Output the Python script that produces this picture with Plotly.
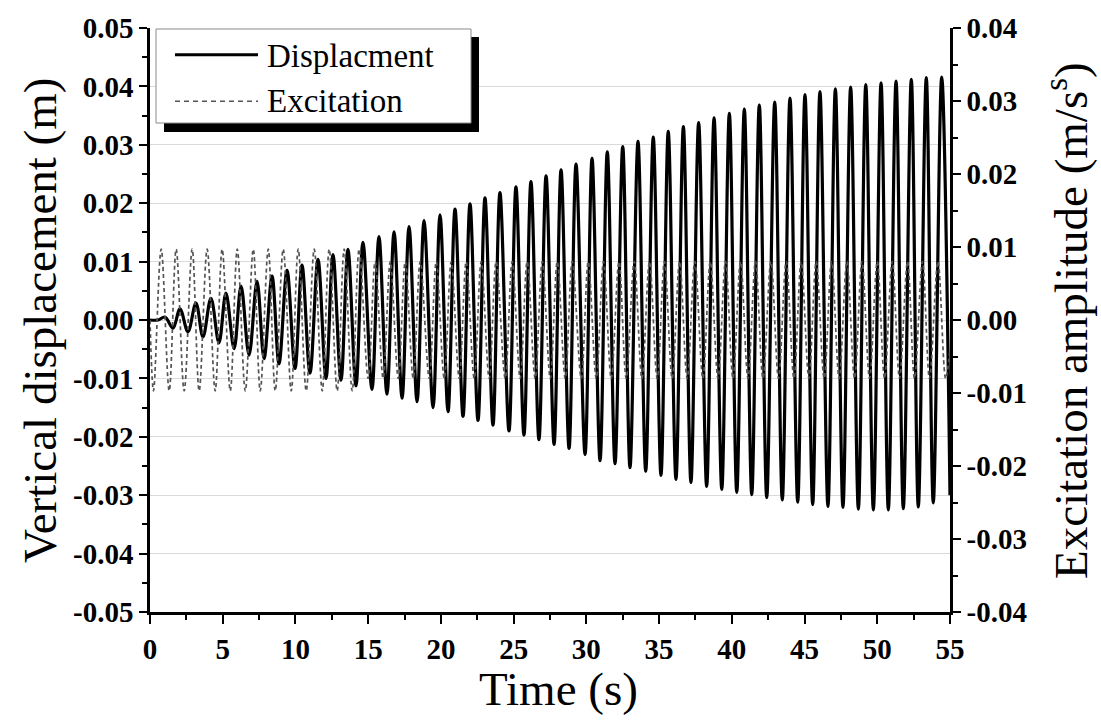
import plotly.graph_objects as go

# ---- Vertical displacement: turning points of the response (s, m) ----
disp_start_t = [0.0, 0.55]
disp_start_v = [0.0, 0.0]

disp_peak_t = [1.03, 2.06, 3.16, 4.19, 5.22, 6.26, 7.36, 8.39, 9.42, 10.45,
               11.55, 12.58, 13.61, 14.64, 15.74, 16.78, 17.81, 18.84, 19.94, 20.97,
               22.00, 23.03, 24.06, 25.16, 26.19, 27.23, 28.26, 29.29, 30.39, 31.44,
               32.50, 33.55, 34.60, 35.63, 36.67, 37.72, 38.78, 39.83, 40.86, 41.89,
               42.95, 44.00, 45.03, 46.06, 47.12, 48.17, 49.21, 50.26, 51.29, 52.34,
               53.37, 54.43]
disp_peak_v = [0.0005, 0.0019, 0.0029, 0.0037, 0.0046, 0.0058, 0.0066, 0.0075, 0.0085, 0.0094,
               0.0104, 0.0112, 0.0121, 0.0133, 0.0143, 0.0151, 0.0160, 0.0170, 0.0180, 0.0190,
               0.0199, 0.0209, 0.0218, 0.0228, 0.0237, 0.0247, 0.0257, 0.0267, 0.0277, 0.0288,
               0.0297, 0.0306, 0.0313, 0.0323, 0.0331, 0.0338, 0.0346, 0.0354, 0.0361, 0.0368,
               0.0373, 0.0380, 0.0386, 0.0391, 0.0396, 0.0399, 0.0403, 0.0406, 0.0409, 0.0412,
               0.0415, 0.0416]

disp_trough_t = [1.58, 2.61, 3.64, 4.74, 5.78, 6.81, 7.84, 8.87, 9.97, 11.00,
                 12.10, 13.13, 14.16, 15.26, 16.29, 17.33, 18.36, 19.46, 20.49, 21.52,
                 22.55, 23.58, 24.68, 25.71, 26.74, 27.78, 28.81, 29.91, 30.94, 31.97,
                 33.00, 34.08, 35.13, 36.16, 37.19, 38.27, 39.31, 40.34, 41.37, 42.40,
                 43.47, 44.53, 45.56, 46.61, 47.64, 48.70, 49.73, 50.76, 51.79, 52.82,
                 53.85]
disp_trough_v = [-0.0014, -0.0020, -0.0029, -0.0039, -0.0049, -0.0060, -0.0066, -0.0075, -0.0083, -0.0091,
                 -0.0100, -0.0103, -0.0113, -0.0119, -0.0127, -0.0134, -0.0140, -0.0150, -0.0157, -0.0165,
                 -0.0172, -0.0180, -0.0190, -0.0197, -0.0205, -0.0213, -0.0220, -0.0230, -0.0241, -0.0246,
                 -0.0253, -0.0259, -0.0266, -0.0273, -0.0278, -0.0285, -0.0290, -0.0295, -0.0299, -0.0304,
                 -0.0308, -0.0312, -0.0316, -0.0319, -0.0321, -0.0324, -0.0325, -0.0325, -0.0323, -0.0320,
                 -0.0313]

disp_end_t = [55.0]
disp_end_v = [-0.0300]

# ---- Excitation: turning points of the input signal (s, m/s^2) ----
exc_start_t = [0.0]
exc_start_v = [0.0]
exc_trough_t = [0.24, 1.32, 2.35, 3.38, 4.48, 5.52, 6.55, 7.58, 8.61, 9.71,
                10.74, 11.84, 12.87, 13.90, 15.00, 16.03, 17.07, 18.10, 19.20, 20.23,
                21.26, 22.29, 23.32, 24.42, 25.45, 26.48, 27.52, 28.55, 29.65, 30.68,
                31.71, 32.74, 33.82, 34.87, 35.90, 36.93, 38.01, 39.05, 40.08, 41.11,
                42.14, 43.21, 44.27, 45.30, 46.35, 47.38, 48.44, 49.47, 50.50, 51.53,
                52.56, 53.59, 54.70]
exc_peak_t = [0.77, 1.80, 2.90, 3.93, 4.96, 6.00, 7.10, 8.13, 9.16, 10.19,
              11.29, 12.32, 13.35, 14.38, 15.48, 16.52, 17.55, 18.58, 19.68, 20.71,
              21.74, 22.77, 23.80, 24.90, 25.93, 26.97, 28.00, 29.03, 30.13, 31.18,
              32.24, 33.29, 34.34, 35.37, 36.41, 37.46, 38.52, 39.57, 40.60, 41.63,
              42.69, 43.74, 44.77, 45.80, 46.86, 47.91, 48.95, 50.00, 51.03, 52.08,
              53.11, 54.17]
exc_amp_early = 0.0097   # level of the first cycles
exc_amp_late = 0.0080    # level once the sweep settles
exc_amp_switch_t = 15.0
exc_end_t = [55.0]
exc_end_v = [-0.0040]

# ---- Axis ticks ----
x_ticks = [0, 5, 10, 15, 20, 25, 30, 35, 40, 45, 50, 55]
y_ticks = [-0.05, -0.04, -0.03, -0.02, -0.01, 0.0, 0.01, 0.02, 0.03, 0.04, 0.05]
y_tick_text = ["-0.05", "-0.04", "-0.03", "-0.02", "-0.01", "0.00",
               "0.01", "0.02", "0.03", "0.04", "0.05"]
y2_ticks = [-0.04, -0.03, -0.02, -0.01, 0.0, 0.01, 0.02, 0.03, 0.04]
y2_tick_text = ["-0.04", "-0.03", "-0.02", "-0.01", "0.00", "0.01", "0.02", "0.03", "0.04"]


def interleave(a_t, a_v, b_t, b_v):
    pts = sorted(list(zip(a_t, a_v)) + list(zip(b_t, b_v)))
    return [p[0] for p in pts], [p[1] for p in pts]


# displacement polyline through its turning points
dx, dy = interleave(disp_peak_t, disp_peak_v, disp_trough_t, disp_trough_v)
disp_x = disp_start_t + dx + disp_end_t
disp_y = disp_start_v + dy + disp_end_v

# excitation polyline through its turning points
exc_peak_v = [exc_amp_early if t < exc_amp_switch_t else exc_amp_late for t in exc_peak_t]
exc_trough_v = [-(exc_amp_early if t < exc_amp_switch_t else exc_amp_late) for t in exc_trough_t]
ex, ey = interleave(exc_peak_t, exc_peak_v, exc_trough_t, exc_trough_v)
exc_x = exc_start_t + ex + exc_end_t
exc_y = exc_start_v + ey + exc_end_v

SERIF = "Liberation Serif, Times New Roman, serif"
W, H = 1101, 724
ML, MR, MT, MB = 150, 151, 22, 112
PW, PH = W - ML - MR, H - MT - MB


def px(xp):
    return (xp - ML) / PW


def py(yp):
    return (H - MB - yp) / PH


fig = go.Figure()
fig.add_trace(go.Scatter(
    x=exc_x, y=exc_y, mode="lines", name="Excitation", yaxis="y2",
    line=dict(color="#555555", width=1.7, dash="4px,3px", shape="spline", smoothing=1.0),
))
fig.add_trace(go.Scatter(
    x=disp_x, y=disp_y, mode="lines", name="Displacment", yaxis="y",
    line=dict(color="black", width=3.2, shape="spline", smoothing=1.0),
))

tick_font = dict(family=SERIF, size=29, color="black", weight="bold")

fig.update_layout(
    width=W, height=H,
    margin=dict(l=ML, r=MR, t=MT, b=MB),
    paper_bgcolor="white", plot_bgcolor="white",
    showlegend=False,
    font=dict(family=SERIF, color="black"),
    xaxis=dict(
        range=[0, 55], tickvals=x_ticks, ticks="outside", ticklen=9, tickwidth=2,
        tickcolor="black", showline=True, linecolor="black", linewidth=2.5,
        showgrid=False, zeroline=False, tickfont=tick_font,
        minor=dict(dtick=2.5, ticks="outside", ticklen=5, tickwidth=2, tickcolor="black", showgrid=False),
    ),
    yaxis=dict(
        range=[-0.05, 0.05], tickvals=y_ticks, ticktext=y_tick_text,
        ticks="outside", ticklen=8, tickwidth=2, tickcolor="black",
        showline=True, linecolor="black", linewidth=2.5,
        showgrid=True, gridcolor="#dadada", gridwidth=1, zeroline=False,
        tickfont=tick_font,
        minor=dict(tick0=-0.05, dtick=0.005, ticks="outside", ticklen=5, tickwidth=2,
                   tickcolor="black", showgrid=False),
    ),
    yaxis2=dict(
        range=[-0.04, 0.04], overlaying="y", side="right",
        tickvals=y2_ticks, ticktext=y2_tick_text,
        ticks="outside", ticklen=8, tickwidth=2, tickcolor="black",
        showline=True, linecolor="black", linewidth=2.5,
        showgrid=False, zeroline=False, tickfont=tick_font,
        minor=dict(tick0=-0.04, dtick=0.005, ticks="outside", ticklen=5, tickwidth=2,
                   tickcolor="black", showgrid=False),
    ),
)

# axis titles
title_font = dict(family=SERIF, size=47, color="black")
fig.add_annotation(text="Time (s)", xref="paper", yref="paper", x=px(558), y=py(690),
                   showarrow=False, font=title_font, xanchor="center", yanchor="middle")
fig.add_annotation(text="Vertical displacement (m)", xref="paper", yref="paper",
                   x=px(40), y=py(318), textangle=-90, showarrow=False, font=title_font,
                   xanchor="center", yanchor="middle")
fig.add_annotation(text="Excitation amplitude (m/s<sup>s</sup>)", xref="paper", yref="paper",
                   x=px(1068), y=py(318), textangle=-90, showarrow=False, font=title_font,
                   xanchor="center", yanchor="middle")

# legend box with drop shadow
fig.add_shape(type="rect", xref="paper", yref="paper",
              x0=px(164), x1=px(479), y0=py(127), y1=py(31),
              fillcolor="black", line=dict(width=0), layer="above")
fig.add_shape(type="rect", xref="paper", yref="paper",
              x0=px(156), x1=px(471), y0=py(118), y1=py(23),
              fillcolor="white", line=dict(color="#8a8a8a", width=1), layer="above")
fig.add_shape(type="line", xref="paper", yref="paper",
              x0=px(175), x1=px(258), y0=py(49), y1=py(49),
              line=dict(color="black", width=2.8), layer="above")
fig.add_shape(type="line", xref="paper", yref="paper",
              x0=px(175), x1=px(258), y0=py(96), y1=py(96),
              line=dict(color="#555555", width=1.5, dash="5px,4px"), layer="above")
legend_font = dict(family=SERIF, size=33, color="black")
fig.add_annotation(text="Displacment", xref="paper", yref="paper", x=px(265), y=py(50),
                   showarrow=False, font=legend_font, xanchor="left", yanchor="middle")
fig.add_annotation(text="Excitation", xref="paper", yref="paper", x=px(265), y=py(96),
                   showarrow=False, font=legend_font, xanchor="left", yanchor="middle")

fig.write_html("out.html")
